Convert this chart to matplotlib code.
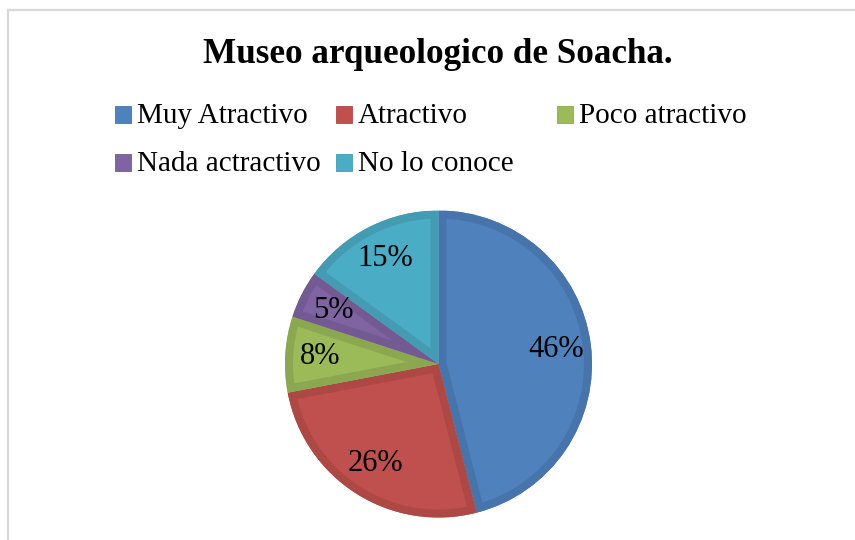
import matplotlib
matplotlib.use("Agg")
import matplotlib.pyplot as plt
from matplotlib.patches import Rectangle, Wedge
from matplotlib.lines import Line2D
import matplotlib.colors as mcolors

title = "Museo arqueologico de Soacha."
categories = ["Muy Atractivo", "Atractivo", "Poco atractivo", "Nada actractivo", "No lo conoce"]
values = [46, 26, 8, 5, 15]
colors = ["#4F81BD", "#C0504D", "#9BBB59", "#8064A2", "#4BACC6"]

W, H, DPI = 855, 540, 100
plt.rcParams['font.family'] = ['Liberation Serif', 'DejaVu Serif']
fig = plt.figure(figsize=(W / DPI, H / DPI), dpi=DPI)
fig.patch.set_facecolor("white")

# chart border (top and left visible)
fig.add_artist(Line2D([8 / W, 8 / W], [0, 1 - 10 / H], transform=fig.transFigure,
                      color="#D9D9D9", lw=1.6))
fig.add_artist(Line2D([8 / W, 1], [1 - 10 / H, 1 - 10 / H], transform=fig.transFigure,
                      color="#D9D9D9", lw=1.6))

# title
fig.text(438 / W, 1 - 63 / H, title, ha="center", va="baseline",
         fontsize=25.3, fontweight="bold", color="black")

# pie
cx, cy, r = 438.5, 364, 153.5
ax = fig.add_axes([(cx - r) / W, (H - cy - r) / H, 2 * r / W, 2 * r / H])
wedges, texts, autotexts = ax.pie(values, colors=colors, startangle=90, counterclock=False,
                                  autopct='%1.0f%%', pctdistance=0.77,
                                  wedgeprops=dict(linewidth=0),
                                  textprops=dict(fontsize=22, color="black"))
ax.set_xlim(-1, 1)
ax.set_ylim(-1, 1)
ax.set_aspect("equal")
ax.axis("off")

# darker inner band on each slice (bevel look)
for w, c in zip(wedges, colors):
    rgb = mcolors.to_rgb(c)
    dark = tuple(v * 0.9 for v in rgb)
    band = Wedge(w.center, w.r, w.theta1, w.theta2,
                 facecolor="none", edgecolor=dark,
                 linewidth=16 * 72 / DPI, zorder=w.get_zorder() + 0.1)
    ax.add_patch(band)
    band.set_clip_path(w)
for t in autotexts:
    t.set_zorder(5)

# legend (equal-width columns, as in the reference)
x0, y0, colw, rowh, msz = 115, 114.5, 221, 48, 16
for i, (lab, c) in enumerate(zip(categories, colors)):
    col, row = i % 3, i // 3
    mx = x0 + col * colw
    my = y0 + row * rowh
    fig.add_artist(Rectangle((mx / W, 1 - (my + msz / 2) / H), msz / W, msz / H,
                             transform=fig.transFigure, facecolor=c,
                             edgecolor=mcolors.to_hex(tuple(v * 0.9 for v in mcolors.to_rgb(c))),
                             linewidth=0.6))
    fig.text((mx + msz + 6) / W, 1 - (my + 8.5) / H, lab, ha="left", va="baseline",
             fontsize=21, color="black")

fig.savefig("out.png", dpi=DPI, facecolor="white")
